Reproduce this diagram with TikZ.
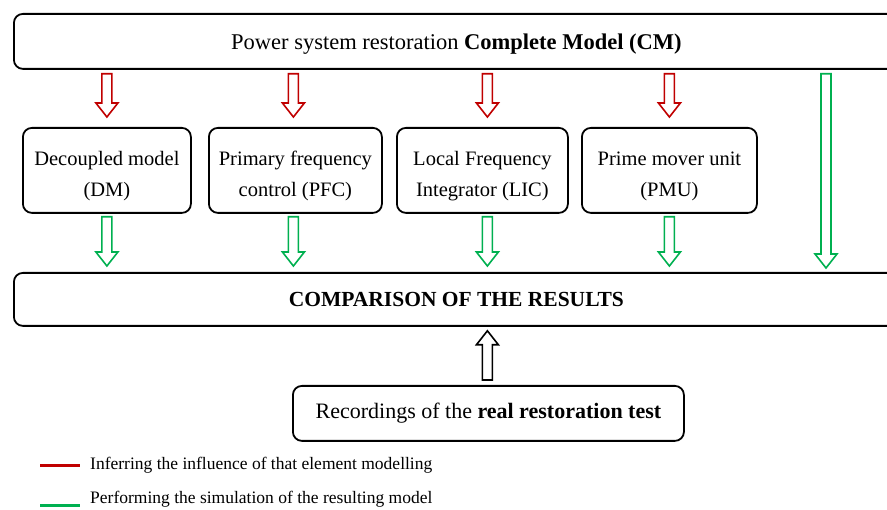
\documentclass[tikz,border=0pt]{standalone}
\usepackage{fontspec}
\setmainfont{Liberation Serif}
\usetikzlibrary{calc}
\definecolor{arred}{HTML}{C00000}
\definecolor{argreen}{HTML}{00B050}
\tikzset{
  box/.style={draw=black, line width=1.8pt, rounded corners=9pt, align=center, inner sep=0pt},
  midfont/.style={font=\fontsize{20.5}{31}\selectfont},
  bigfont/.style={font=\fontsize{22.5}{28}\selectfont},
  legfont/.style={font=\fontsize{17.5}{20}\selectfont, anchor=west, inner sep=0pt},
}
\newcommand\barrowdown[3]{%
  \draw[#1, line width=1.6pt, line join=miter] let \p1=(#2), \p2=(#3) in
    (\x1-5pt,\y1) -- (\x1+5pt,\y1) -- (\x1+5pt,\y2+14pt) -- (\x1+11pt,\y2+14pt) --
    (\x1,\y2) -- (\x1-11pt,\y2+14pt) -- (\x1-5pt,\y2+14pt) -- cycle;}
\newcommand\barrowup[3]{%
  \draw[#1, line width=1.6pt, line join=miter] let \p1=(#2), \p2=(#3) in
    (\x1-5pt,\y1) -- (\x1+5pt,\y1) -- (\x1+5pt,\y2-14pt) -- (\x1+11pt,\y2-14pt) --
    (\x1,\y2) -- (\x1-11pt,\y2-14pt) -- (\x1-5pt,\y2-14pt) -- cycle;}
\newcommand\topstrut{\rule{0pt}{26pt}}
\begin{document}
\begin{tikzpicture}[x=1pt, y=-1pt]
\useasboundingbox (0,0) rectangle (887,510);
\clip (0,0) rectangle (887,510);
% boxes
\node[box, bigfont, minimum width=885, minimum height=55, anchor=north west] (cm) at (13,13)
  {\rule{0pt}{22pt}Power system restoration \textbf{Complete Model (CM)}};
\node[box, midfont, minimum width=168, minimum height=85, anchor=north west] (dm) at (22,127)
  {\topstrut Decoupled model\\(DM)};
\node[box, midfont, minimum width=173, minimum height=85, anchor=north west] (pfc) at (208,127)
  {\topstrut Primary frequency\\control (PFC)};
\node[box, midfont, minimum width=171, minimum height=85, anchor=north west] (lic) at (396,127)
  {\topstrut Local Frequency\\Integrator (LIC)};
\node[box, midfont, minimum width=175, minimum height=85, anchor=north west] (pmu) at (581,127)
  {\topstrut Prime mover unit\\(PMU)};
\node[box, font=\fontsize{21.5}{26}\selectfont, minimum width=885, minimum height=53, anchor=north west] (comp) at (13,272)
  {\textbf{COMPARISON OF THE RESULTS}};
\node[box, font=\fontsize{22}{26}\selectfont, minimum width=391, minimum height=55, anchor=north west] (rec) at (292,385)
  {Recordings of the \textbf{real restoration test}};
% arrow end points
\coordinate (r1a) at ($(cm.south -| dm.north)+(0,4)$);
\coordinate (r1b) at ($(dm.north)+(0,-10)$);
\coordinate (r2a) at ($(cm.south -| pfc.north)+(-2,4)$);
\coordinate (r2b) at ($(pfc.north)+(-2,-10)$);
\coordinate (r3a) at ($(cm.south -| lic.north)+(5,4)$);
\coordinate (r3b) at ($(lic.north)+(5,-10)$);
\coordinate (r4a) at ($(cm.south -| pmu.north)+(0,4)$);
\coordinate (r4b) at ($(pmu.north)+(0,-10)$);
\coordinate (g1a) at ($(dm.south)+(0,3)$);
\coordinate (g1b) at ($(comp.north -| dm.south)+(0,-6)$);
\coordinate (g2a) at ($(pfc.south)+(-2,3)$);
\coordinate (g2b) at ($(comp.north -| pfc.south)+(-2,-6)$);
\coordinate (g3a) at ($(lic.south)+(5,3)$);
\coordinate (g3b) at ($(comp.north -| lic.south)+(5,-6)$);
\coordinate (g4a) at ($(pmu.south)+(0,3)$);
\coordinate (g4b) at ($(comp.north -| pmu.south)+(0,-6)$);
\coordinate (g5a) at ($(cm.south -| 826,0)+(0,4)$);
\coordinate (g5b) at ($(comp.north -| 826,0)+(0,-4)$);
\coordinate (ka) at ($(rec.north -| lic.south)+(5,-5)$);
\coordinate (kb) at ($(comp.south -| lic.south)+(5,4)$);
% arrows
\barrowdown{arred}{r1a}{r1b}
\barrowdown{arred}{r2a}{r2b}
\barrowdown{arred}{r3a}{r3b}
\barrowdown{arred}{r4a}{r4b}
\barrowdown{argreen}{g1a}{g1b}
\barrowdown{argreen}{g2a}{g2b}
\barrowdown{argreen}{g3a}{g3b}
\barrowdown{argreen}{g4a}{g4b}
\barrowdown{argreen}{g5a}{g5b}
\barrowup{black}{ka}{kb}
% legend
\coordinate (l1a) at (40,466);
\coordinate (l1b) at (80,466);
\coordinate (l2a) at (40,506);
\coordinate (l2b) at (80,506);
\draw[arred, line width=3pt] (l1a) -- (l1b);
\draw[argreen, line width=3pt] (l2a) -- (l2b);
\node[legfont] (t1) at (90,465) {Inferring the influence of that element modelling};
\node[legfont] (t2) at (90,499) {Performing the simulation of the resulting model};
\end{tikzpicture}
\end{document}
